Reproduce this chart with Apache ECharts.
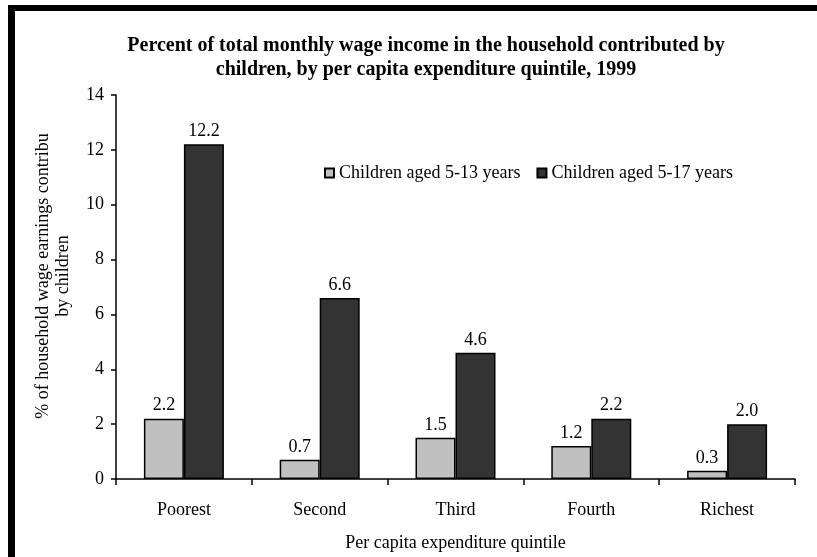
<!DOCTYPE html>
<html>
<head>
<meta charset="utf-8">
<script src="https://cdn.jsdelivr.net/npm/echarts@6/dist/echarts.min.js"></script>
<style>html,body{margin:0;padding:0;background:#fff;}#c{width:817px;height:557px;}</style>
</head>
<body>
<div id="c"></div>
<script>
var categories = ['Poorest', 'Second', 'Third', 'Fourth', 'Richest'];
var seriesNames = ['Children aged 5-13 years', 'Children aged 5-17 years'];
var aged5to13 = [2.2, 0.7, 1.5, 1.2, 0.3];
var aged5to17 = [12.2, 6.6, 4.6, 2.2, 2.0];
var yTicks = [0, 2, 4, 6, 8, 10, 12, 14];

var FONT = '"Liberation Serif", "Times New Roman", serif';
var chart = echarts.init(document.getElementById('c'));
function labelCfg() {
  return {show: true, position: 'top', distance: 4, color: '#000', fontFamily: FONT, fontSize: 18,
    formatter: function (p) { return p.value.toFixed(1); }};
}
chart.setOption({
  animation: false,
  backgroundColor: '#fff',
  textStyle: {fontFamily: FONT},
  title: {
    text: 'Percent of total monthly wage income in the household contributed by\nchildren, by per capita expenditure quintile, 1999',
    left: 421, top: 29, textAlign: 'center',
    textStyle: {fontFamily: FONT, fontSize: 20, fontWeight: 'bold', color: '#000', lineHeight: 24}
  },
  legend: {
    data: seriesNames,
    left: 319, top: 159,
    icon: 'rect', itemWidth: 9, itemHeight: 9, itemGap: 16,
    textStyle: {fontFamily: FONT, fontSize: 18, color: '#000'}
  },
  grid: {left: 116, right: 22, top: 95, bottom: 76, containLabel: false},
  xAxis: {
    type: 'category', data: categories,
    name: 'Per capita expenditure quintile', nameLocation: 'middle', nameGap: 55,
    nameTextStyle: {fontFamily: FONT, fontSize: 18, color: '#000'},
    axisLine: {lineStyle: {color: '#000', width: 1.5}},
    axisTick: {show: true, length: 6, lineStyle: {color: '#000', width: 1.5}},
    axisLabel: {color: '#000', fontFamily: FONT, fontSize: 18, margin: 22}
  },
  yAxis: {
    type: 'value', min: 0, max: 14, interval: 2,
    name: '% of household wage earnings contribu\nby children', nameLocation: 'middle', nameGap: 43, nameRotate: 90,
    nameTextStyle: {fontFamily: FONT, fontSize: 18, color: '#000', lineHeight: 20, padding: [0, 0, 0, 22]},
    axisLine: {show: true, lineStyle: {color: '#000', width: 1.5}},
    axisTick: {show: true, length: 5, lineStyle: {color: '#000', width: 1.5}},
    axisLabel: {color: '#000', fontFamily: FONT, fontSize: 18, margin: 12,
      formatter: function (v) { return yTicks.indexOf(v) >= 0 ? String(v) : ''; }},
    splitLine: {show: false}
  },
  series: [
    {name: seriesNames[0], type: 'bar', data: aged5to13, barWidth: 40, barGap: '0%',
      itemStyle: {color: '#C0C0C0', borderColor: '#000', borderWidth: 1.5}, label: labelCfg()},
    {name: seriesNames[1], type: 'bar', data: aged5to17, barWidth: 40, barGap: '0%',
      itemStyle: {color: '#333333', borderColor: '#000', borderWidth: 1.5}, label: labelCfg()}
  ],
  graphic: [
    {type: 'rect', shape: {x: 8, y: 5, width: 809, height: 6}, style: {fill: '#000'}, silent: true},
    {type: 'rect', shape: {x: 8, y: 5, width: 7, height: 552}, style: {fill: '#000'}, silent: true}
  ]
});
</script>
</body>
</html>
